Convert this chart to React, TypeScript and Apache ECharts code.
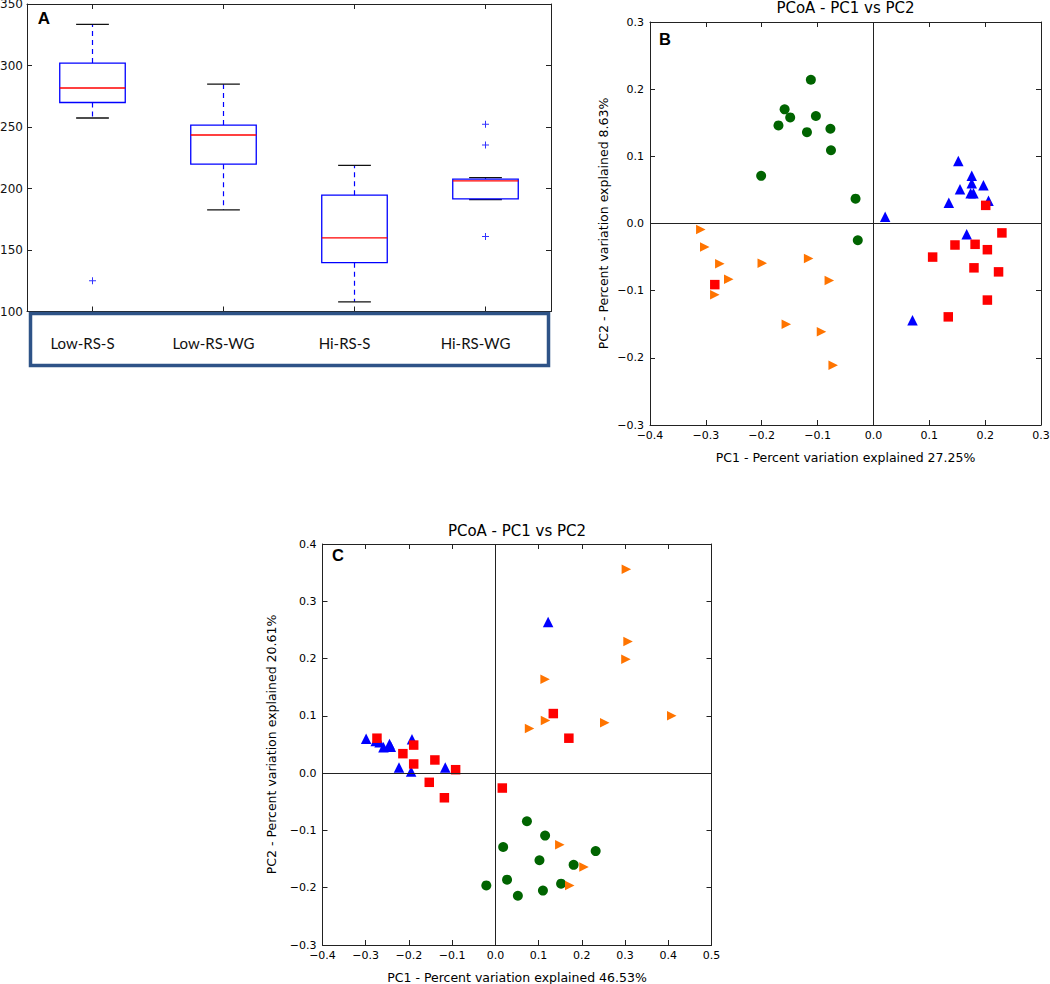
import React, { useEffect, useRef } from "react";
import * as echarts from "echarts";

// ---------- Panel A : boxplot ----------
const categories = ["Low-RS-S", "Low-RS-WG", "Hi-RS-S", "Hi-RS-WG"];
const whiskerLow = [257.3, 182.6, 107.9, 190.9];
const quartile1 = [269.9, 219.8, 139.7, 191.5];
const medians = [281.7, 243.5, 159.8, 206.2];
const quartile3 = [302.0, 251.6, 194.6, 207.7];
const whiskerHigh = [333.5, 284.8, 218.8, 208.8];
const outliers = [
  [0, 125],
  [3, 252.2],
  [3, 235.3],
  [3, 160.9],
];
const yTicksA = { min: 100, max: 350, interval: 50 };

// ---------- Panel B : PCoA ----------
const greenB = [
  [-0.112, 0.214], [-0.159, 0.17], [-0.149, 0.158], [-0.17, 0.146], [-0.103, 0.16],
  [-0.119, 0.136], [-0.077, 0.141], [-0.076, 0.109], [-0.201, 0.071], [-0.032, 0.037],
  [-0.028, -0.025],
];
const blueB = [
  [0.021, 0.01], [0.152, 0.093], [0.176, 0.071], [0.176, 0.06], [0.197, 0.057],
  [0.155, 0.051], [0.174, 0.045], [0.179, 0.045], [0.135, 0.031], [0.206, 0.034],
  [0.167, -0.016], [0.07, -0.144],
];
const redB = [
  [0.201, 0.027], [0.23, -0.014], [0.146, -0.032], [0.182, -0.031], [0.204, -0.039],
  [0.106, -0.05], [0.18, -0.066], [0.224, -0.072], [0.204, -0.114], [0.134, -0.139],
  [-0.284, -0.091],
];
const orangeB = [
  [-0.309, -0.009], [-0.302, -0.035], [-0.275, -0.06], [-0.199, -0.059], [-0.116, -0.052],
  [-0.259, -0.083], [-0.079, -0.085], [-0.284, -0.106], [-0.156, -0.15], [-0.093, -0.161],
  [-0.072, -0.211],
];

// ---------- Panel C : PCoA ----------
const orangeC = [
  [0.303, 0.356], [0.307, 0.23], [0.302, 0.199], [0.115, 0.164], [0.116, 0.092],
  [0.079, 0.078], [0.253, 0.088], [0.408, 0.1], [0.149, -0.125], [0.205, -0.164],
  [0.172, -0.196],
];
const blueC = [
  [0.122, 0.264], [-0.299, 0.06], [-0.277, 0.056], [-0.268, 0.054], [-0.259, 0.045],
  [-0.245, 0.051], [-0.242, 0.046], [-0.193, 0.059], [-0.223, 0.01], [-0.195, 0.003],
  [-0.116, 0.01],
];
const redC = [
  [0.134, 0.104], [-0.274, 0.061], [0.17, 0.061], [-0.214, 0.034], [-0.189, 0.049],
  [-0.189, 0.016], [-0.14, 0.023], [-0.092, 0.006], [-0.153, -0.016], [-0.118, -0.043],
  [0.016, -0.026],
];
const greenC = [
  [0.073, -0.084], [0.115, -0.109], [0.018, -0.129], [0.102, -0.152], [0.232, -0.136],
  [0.181, -0.16], [-0.021, -0.196], [0.027, -0.186], [0.052, -0.214], [0.11, -0.205],
  [0.152, -0.193],
];

const titleText = "PCoA - PC1 vs PC2";
const xNameB = "PC1 - Percent variation explained 27.25%";
const yNameB = "PC2 - Percent variation explained 8.63%";
const xNameC = "PC1 - Percent variation explained 46.53%";
const yNameC = "PC2 - Percent variation explained 20.61%";

const SANS = "DejaVu Sans";
const FRAME = "#222";
const GREEN = "#006400";
const BLUE = "#0000ff";
const RED = "#ff0000";
const ORANGE = "#ff7400";
const PLUS = "path://M6,0H8V6H14V8H8V14H6V8H0V6H6Z";
const RTRI = "path://M0,0L10,5L0,10Z";

const fmt = (v: number) => {
  if (Math.abs(v) < 1e-9) return "0.0";
  const s = v.toFixed(1);
  return s.startsWith("-") ? "\u2212" + s.slice(1) : s;
};

const frameLine = { show: true, onZero: false, lineStyle: { color: FRAME, width: 1 } };
const tickIn = { show: true, inside: true, length: 5, lineStyle: { color: FRAME, width: 1 } };
const tickLabel = { fontFamily: SANS, fontSize: 11, color: "#000" };

function valueAxisPair(
  gridIndex: number,
  min: number,
  max: number,
  isX: boolean,
  name: string,
  nameGap: number
) {
  const main: any = {
    type: "value",
    gridIndex,
    min,
    max,
    interval: 0.1,
    position: isX ? "bottom" : "left",
    axisLine: frameLine,
    axisTick: tickIn,
    splitLine: { show: false },
    axisLabel: { ...tickLabel, margin: isX ? 5 : 6, formatter: fmt },
    name,
    nameLocation: "middle",
    nameGap,
    nameTextStyle: { fontFamily: SANS, fontSize: 12.5, color: "#000" },
  };
  const other: any = {
    type: "value",
    gridIndex,
    min,
    max,
    interval: 0.1,
    position: isX ? "top" : "right",
    axisLine: frameLine,
    axisTick: tickIn,
    splitLine: { show: false },
    axisLabel: { show: false },
  };
  return [main, other];
}

function scatter(data: number[][], axisIndex: number, symbol: string, size: number, color: string) {
  return {
    type: "scatter",
    xAxisIndex: axisIndex,
    yAxisIndex: axisIndex,
    data,
    symbol,
    symbolSize: size,
    itemStyle: { color, opacity: 1 },
    z: 3,
    silent: true,
  };
}

function zeroLines(axisIndex: number) {
  return {
    type: "scatter",
    xAxisIndex: axisIndex,
    yAxisIndex: axisIndex,
    data: [],
    z: 1,
    silent: true,
    markLine: {
      silent: true,
      symbol: ["none", "none"],
      label: { show: false },
      lineStyle: { color: FRAME, width: 1, type: "solid" },
      data: [{ xAxis: 0 }, { yAxis: 0 }],
    },
  };
}

export default function App() {
  const ref = useRef<HTMLDivElement>(null);

  useEffect(() => {
    if (!ref.current) return;
    const chart = echarts.init(ref.current, null, { renderer: "svg" });

    const boxData = categories.map((_, i) => [
      i,
      whiskerLow[i],
      quartile1[i],
      medians[i],
      quartile3[i],
      whiskerHigh[i],
    ]);

    const [bx, bxTop] = valueAxisPair(1, -0.4, 0.3, true, xNameB, 26);
    const [by, byRight] = valueAxisPair(1, -0.3, 0.3, false, yNameB, 40);
    const [cx, cxTop] = valueAxisPair(2, -0.4, 0.5, true, xNameC, 26);
    const [cy, cyRight] = valueAxisPair(2, -0.3, 0.4, false, yNameC, 45);

    const option: any = {
      animation: false,
      backgroundColor: "#fff",
      grid: [
        { left: 27, top: 4, width: 524, height: 307.5, containLabel: false, outerBoundsMode: "none" },
        { left: 650, top: 22, width: 391, height: 403, containLabel: false, outerBoundsMode: "none" },
        { left: 322.5, top: 544, width: 389, height: 401, containLabel: false, outerBoundsMode: "none" },
      ],
      xAxis: [
        {
          type: "category",
          gridIndex: 0,
          data: categories,
          position: "bottom",
          boundaryGap: true,
          axisLine: frameLine,
          axisTick: { ...tickIn, alignWithLabel: true },
          axisLabel: {
            fontFamily: "Lato",
            fontSize: 15,
            color: "#111",
            margin: 24,
            padding: [0, 20, 0, 0],
            interval: 0,
          },
          splitLine: { show: false },
        },
        {
          type: "category",
          gridIndex: 0,
          data: categories,
          position: "top",
          boundaryGap: true,
          axisLine: frameLine,
          axisTick: { ...tickIn, alignWithLabel: true },
          axisLabel: { show: false },
          splitLine: { show: false },
        },
        bx,
        bxTop,
        cx,
        cxTop,
      ],
      yAxis: [
        {
          type: "value",
          gridIndex: 0,
          min: yTicksA.min,
          max: yTicksA.max,
          interval: yTicksA.interval,
          position: "left",
          axisLine: frameLine,
          axisTick: tickIn,
          splitLine: { show: false },
          axisLabel: { fontFamily: SANS, fontSize: 12, color: "#111", margin: 4 },
        },
        {
          type: "value",
          gridIndex: 0,
          min: yTicksA.min,
          max: yTicksA.max,
          interval: yTicksA.interval,
          position: "right",
          axisLine: frameLine,
          axisTick: tickIn,
          splitLine: { show: false },
          axisLabel: { show: false },
        },
        by,
        byRight,
        cy,
        cyRight,
      ],
      series: [
        {
          type: "custom",
          xAxisIndex: 0,
          yAxisIndex: 0,
          data: boxData,
          encode: { x: 0, y: [1, 2, 3, 4, 5] },
          silent: true,
          z: 2,
          renderItem: (params: any, api: any) => {
            const i = api.value(0);
            const lo = api.coord([i, api.value(1)]);
            const q1 = api.coord([i, api.value(2)]);
            const md = api.coord([i, api.value(3)]);
            const q3 = api.coord([i, api.value(4)]);
            const hi = api.coord([i, api.value(5)]);
            const bw = api.size([1, 0])[0];
            const half = bw * 0.25;
            const cap = bw * 0.125;
            const x = lo[0];
            const dash = { stroke: BLUE, lineWidth: 1.2, lineDash: [5, 4], fill: null };
            const capStyle = { stroke: "#111", lineWidth: 1.3, fill: null };
            return {
              type: "group",
              children: [
                { type: "line", shape: { x1: x, y1: q3[1], x2: x, y2: hi[1] }, style: dash },
                { type: "line", shape: { x1: x, y1: q1[1], x2: x, y2: lo[1] }, style: dash },
                { type: "line", shape: { x1: x - cap, y1: hi[1], x2: x + cap, y2: hi[1] }, style: capStyle },
                { type: "line", shape: { x1: x - cap, y1: lo[1], x2: x + cap, y2: lo[1] }, style: capStyle },
                {
                  type: "rect",
                  shape: { x: x - half, y: q3[1], width: half * 2, height: q1[1] - q3[1] },
                  style: { fill: "none", stroke: BLUE, lineWidth: 1.3 },
                },
                {
                  type: "line",
                  shape: { x1: x - half, y1: md[1], x2: x + half, y2: md[1] },
                  style: { stroke: RED, lineWidth: 1.3, fill: null },
                },
              ],
            };
          },
        },
        {
          type: "scatter",
          xAxisIndex: 0,
          yAxisIndex: 0,
          data: outliers,
          symbol: PLUS,
          symbolSize: 7,
          itemStyle: { color: BLUE },
          silent: true,
          z: 3,
        },
        zeroLines(2),
        scatter(greenB, 2, "circle", 10, GREEN),
        scatter(blueB, 2, "triangle", 10.5, BLUE),
        scatter(redB, 2, "rect", 9.5, RED),
        scatter(orangeB, 2, RTRI, 9.5, ORANGE),
        zeroLines(4),
        scatter(greenC, 4, "circle", 10, GREEN),
        scatter(blueC, 4, "triangle", 10.5, BLUE),
        scatter(redC, 4, "rect", 9.5, RED),
        scatter(orangeC, 4, RTRI, 9.5, ORANGE),
      ],
      graphic: [
        {
          type: "rect",
          shape: { x: 30.5, y: 313.5, width: 518, height: 52 },
          style: { fill: "none", stroke: "#2e5387", lineWidth: 3.5 },
          z: 10,
          silent: true,
        },
        {
          type: "text",
          x: 44,
          y: 18,
          style: {
            text: "A",
            font: "bold 17px 'Liberation Sans', Arial, sans-serif",
            fill: "#000",
            textAlign: "center",
            textVerticalAlign: "middle",
            align: "center",
            verticalAlign: "middle",
          },
          z: 10,
        },
        {
          type: "text",
          x: 665,
          y: 39,
          style: {
            text: "B",
            font: "bold 16.5px 'Liberation Sans', Arial, sans-serif",
            fill: "#000",
            textAlign: "center",
            textVerticalAlign: "middle",
            align: "center",
            verticalAlign: "middle",
          },
          z: 10,
        },
        {
          type: "text",
          x: 338,
          y: 555,
          style: {
            text: "C",
            font: "bold 16.5px 'Liberation Sans', Arial, sans-serif",
            fill: "#000",
            textAlign: "center",
            textVerticalAlign: "middle",
            align: "center",
            verticalAlign: "middle",
          },
          z: 10,
        },
        {
          type: "text",
          x: 845.5,
          y: 8,
          style: {
            text: titleText,
            font: "15px 'DejaVu Sans', sans-serif",
            fill: "#000",
            textAlign: "center",
            textVerticalAlign: "middle",
            align: "center",
            verticalAlign: "middle",
          },
          z: 10,
        },
        {
          type: "text",
          x: 517,
          y: 531,
          style: {
            text: titleText,
            font: "15px 'DejaVu Sans', sans-serif",
            fill: "#000",
            textAlign: "center",
            textVerticalAlign: "middle",
            align: "center",
            verticalAlign: "middle",
          },
          z: 10,
        },
      ],
    };

    chart.setOption(option);
    return () => chart.dispose();
  }, []);

  return (
    <div
      ref={ref}
      style={{ position: "absolute", left: 0, top: 0, width: 1050, height: 984, background: "#fff" }}
    />
  );
}
